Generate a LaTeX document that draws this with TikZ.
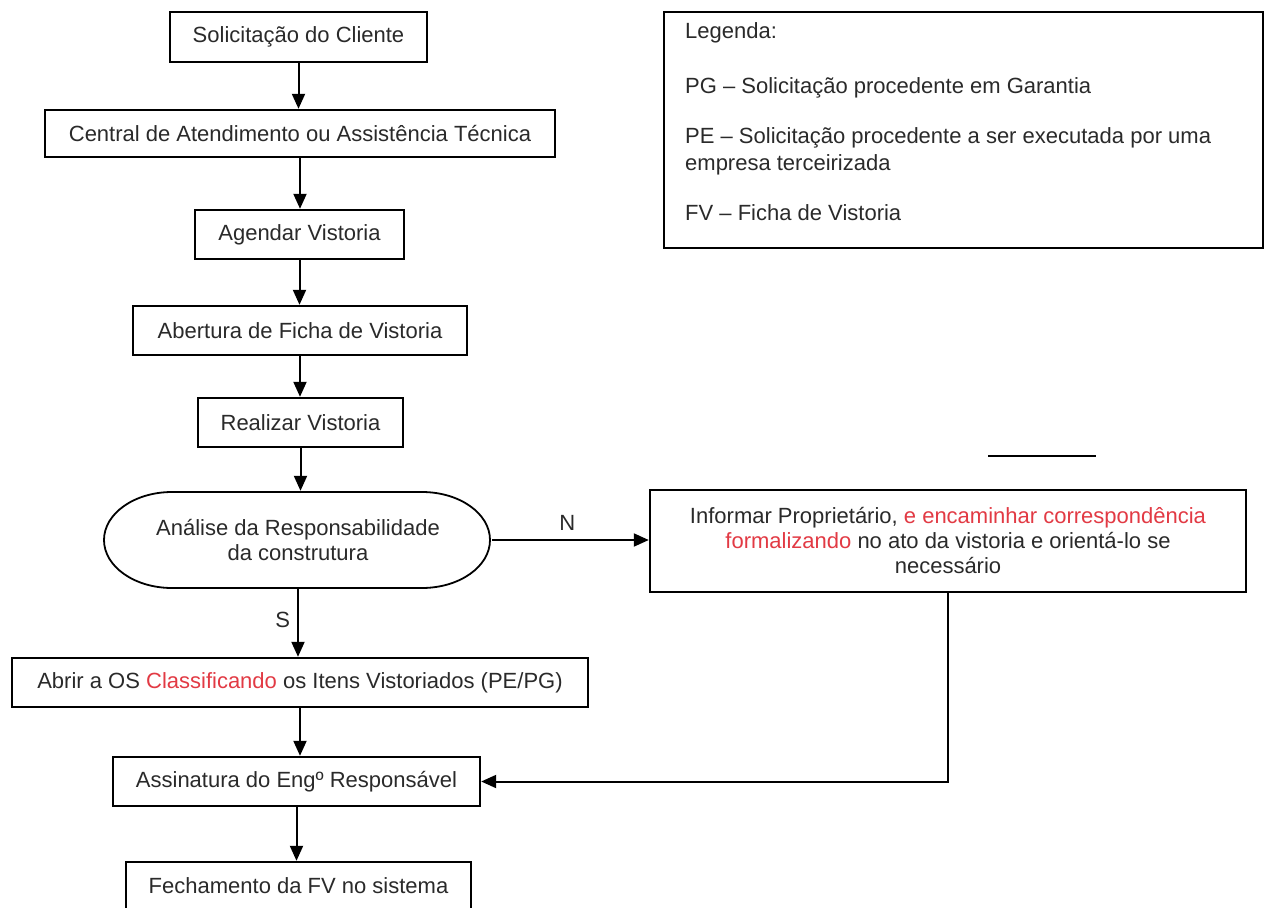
\documentclass[tikz,border=0pt]{standalone}
\usepackage{fontspec}
\setmainfont{Liberation Sans}
\usetikzlibrary{arrows.meta}
\definecolor{txt}{HTML}{2A2A2A}
\definecolor{redtxt}{HTML}{E23A44}
\begin{document}
\begin{tikzpicture}[x=1pt,y=-1pt,
  box/.style={draw=black, line width=2.4pt, inner sep=0pt, font=\fontsize{22}{25}\selectfont, text=txt, align=center},
  arr/.style={line width=2pt, -{Triangle[length=15pt,width=13pt]}},
  lbl/.style={font=\fontsize{22}{27}\selectfont, text=txt, inner sep=0pt}]
\useasboundingbox (0,0) rectangle (1270,908);
\clip (0,0) rectangle (1270,908);
\fill[white] (0,0) rectangle (1270,908);
% main column
\node[box, minimum width=257pt, minimum height=50pt] (b1) at (298.5,37) {Solicitação do Cliente};
\node[box, minimum width=510pt, minimum height=47pt] (b2) at (300,133.5) {Central de Atendimento ou Assistência Técnica};
\node[box, minimum width=209pt, minimum height=49pt] (b3) at (299.5,234.5) {Agendar Vistoria};
\node[box, minimum width=334pt, minimum height=49pt] (b4) at (300,330.5) {Abertura de Ficha de Vistoria};
\node[box, minimum width=205pt, minimum height=49pt] (b5) at (300.5,422.5) {Realizar Vistoria};
\node[box, draw=none, minimum width=386pt, minimum height=96pt] (ana) at (298,540) {Análise da Responsabilidade\\da construtura};
\draw[line width=1.8pt] (172,492) -- (422,492)
  arc[start angle=-90, end angle=90, x radius=68, y radius=48]
  -- (172,588)
  arc[start angle=90, end angle=270, x radius=68, y radius=48] -- cycle;
\node[box, minimum width=576pt, minimum height=49pt] (b6) at (300,682.5) {Abrir a OS \textcolor{redtxt}{Classificando} os Itens Vistoriados (PE/PG)};
\node[box, minimum width=367pt, minimum height=49pt] (b7) at (296.5,781.5) {Assinatura do Engº Responsável};
\node[box, minimum width=345pt, minimum height=48pt] (b8) at (298.5,886) {Fechamento da FV no sistema};
% right side
\node[box, minimum width=596pt, minimum height=102pt] (inf) at (948,541) {Informar Proprietário, \textcolor{redtxt}{e encaminhar correspondência}\\\textcolor{redtxt}{formalizando} no ato da vistoria e orientá-lo se\\necessário};
\node[box, minimum width=599pt, minimum height=236pt] (leg) at (963.5,130) {};
\node[lbl, anchor=west] (l0) at (685,33) {Legenda:};
\node[lbl, anchor=west] (l1) at (685,88) {PG – Solicitação procedente em Garantia};
\node[lbl, anchor=west, align=left] (l2) at (685,151.5) {PE – Solicitação procedente a ser executada por uma\\empresa terceirizada};
\node[lbl, anchor=west] (l3) at (685,213) {FV – Ficha de Vistoria};
\coordinate (sl1) at (988,456);
\coordinate (sl2) at (1096,456);
\draw[line width=2.4pt] (sl1) -- (sl2);
% connectors
\draw[arr] (b1.south) -- (b1.south |- b2.north);
\draw[arr] (b2.south) -- (b2.south |- b3.north);
\draw[arr] (b3.south) -- (b3.south |- b4.north);
\draw[arr] (b4.south) -- (b4.south |- b5.north);
\draw[arr] (b5.south) -- (b5.south |- ana.north);
\draw[arr] (ana.south) -- (ana.south |- b6.north) node[lbl, pos=0.45, left=7pt] (s) {S};
\draw[arr] (ana.east) -- (ana.east -| inf.west) node[lbl, pos=0.48, above=9pt] (n) {N};
\draw[arr] (b6.south) -- (b6.south |- b7.north);
\draw[arr] (b7.south) -- (b7.south |- b8.north);
\draw[arr] (inf.south) |- (b7.east);
\end{tikzpicture}
\end{document}
